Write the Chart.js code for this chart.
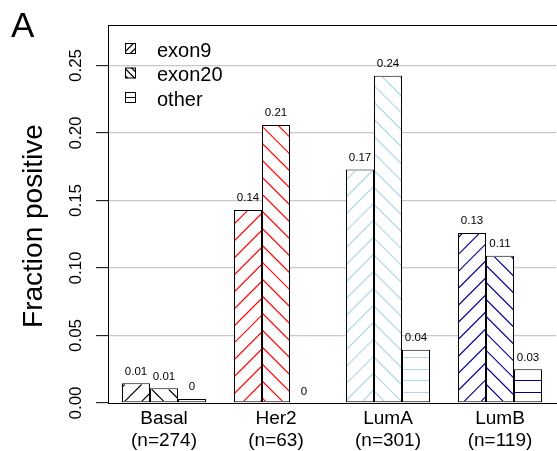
<!DOCTYPE html>
<html>
<head>
<meta charset="utf-8">
<script src="https://cdn.jsdelivr.net/npm/chart.js@4.4.1/dist/chart.umd.min.js"></script>
<style>
  html, body { margin: 0; padding: 0; background: #fff; }
  #wrap { width: 557px; height: 451px; }
</style>
</head>
<body>
<div id="wrap"><canvas id="fracChart" width="557" height="451"></canvas></div>
<script>
// values
const subtypes = ['Basal', 'Her2', 'LumA', 'LumB'];
const sampleSizes = ['(n=274)', '(n=63)', '(n=301)', '(n=119)'];
const seriesNames = ['exon9', 'exon20', 'other'];
const exon9 = [0.0146, 0.143, 0.173, 0.126];
const exon20 = [0.0109, 0.206, 0.2425, 0.109];
const other = [0.003, 0, 0.0395, 0.025];
const yTicks = [0, 0.05, 0.10, 0.15, 0.20, 0.25];
const yTickLabels = ['0.00', '0.05', '0.10', '0.15', '0.20', '0.25'];

const subtypeColors = ['#000000', '#FF0000', '#ADD8E6', '#00008B'];
const hatchKinds = ['/', '\\', '-'];
const FONT = '"Liberation Sans", Arial, Helvetica, sans-serif';

// draw hatch lines inside a rect (clipped); lines anchored to `anchor`
function hatch(ctx, x0, y0, x1, y1, kind, color, gap, anchor) {
    if (x1 - x0 < 1 || y1 - y0 < 1) return;
    anchor = anchor || 0;
    ctx.save();
    ctx.beginPath();
    ctx.rect(x0, y0, x1 - x0, y1 - y0);
    ctx.clip();
    ctx.strokeStyle = color;
    ctx.beginPath();
    if (kind === '-') {
        // 1px lines look fine when horizontal and pixel aligned
        ctx.lineWidth = 1;
        const start = anchor + Math.floor((y0 - anchor) / gap) * gap;
        for (let y = start; y < y1; y += gap) {
            if (y < y0) continue;
            ctx.moveTo(x0, Math.round(y) + 0.5);
            ctx.lineTo(x1, Math.round(y) + 0.5);
        }
    } else {
        // thin diagonal strokes render badly at exactly 1px here
        ctx.lineWidth = 1.2;
        const d = gap * Math.SQRT2;
        if (kind === '/') {
            for (let k = Math.floor((x0 + y0 - anchor) / d); anchor + k * d <= x1 + y1; k++) {
                const c = anchor + k * d;
                ctx.moveTo(c - y0, y0);
                ctx.lineTo(c - y1, y1);
            }
        } else {
            for (let k = Math.floor((x0 - y1 - anchor) / d); anchor + k * d <= x1 - y0; k++) {
                const c = anchor + k * d;
                ctx.moveTo(c + y0, y0);
                ctx.lineTo(c + y1, y1);
            }
        }
    }
    ctx.stroke();
    ctx.restore();
}

const datasets = [exon9, exon20, other].map((vals, i) => ({
    label: seriesNames[i],
    data: vals,
    backgroundColor: '#fff',
    borderColor: '#000',
    borderWidth: 1,
    borderSkipped: false,
    categoryPercentage: 0.75,
    barPercentage: 1.0
}));

const decorations = {
    id: 'decorations',
    beforeDraw(chart) {
        const ctx = chart.ctx;
        ctx.save();
        ctx.fillStyle = '#fff';
        ctx.fillRect(0, 0, chart.width, chart.height);
        ctx.restore();
    },
    afterDatasetsDraw(chart) {
        const ctx = chart.ctx;
        // hatching inside each bar
        chart.data.datasets.forEach((ds, i) => {
            chart.getDatasetMeta(i).data.forEach((bar, j) => {
                const p = bar.getProps(['x', 'y', 'base', 'width'], true);
                const left = p.x - p.width / 2;
                const right = p.x + p.width / 2;
                hatch(ctx, left + 1, p.y + 1, right - 1, p.base - 1,
                    hatchKinds[i], subtypeColors[j], i === 2 ? 11.7 : 12, i === 2 ? 6 : 0);
            });
        });
        // value labels
        ctx.save();
        ctx.fillStyle = '#000';
        ctx.font = '11.5px ' + FONT;
        ctx.textAlign = 'center';
        ctx.textBaseline = 'alphabetic';
        chart.data.datasets.forEach((ds, i) => {
            chart.getDatasetMeta(i).data.forEach((bar, j) => {
                const txt = String(Number(ds.data[j].toFixed(2)));
                ctx.fillText(txt, bar.x, bar.y - 8.5);
            });
        });
        ctx.restore();
    },
    afterDraw(chart) {
        const ctx = chart.ctx;
        const area = chart.chartArea;
        const yScale = chart.scales.y;
        ctx.save();

        // top edge of the box
        ctx.strokeStyle = '#000';
        ctx.lineWidth = 1;
        ctx.beginPath();
        ctx.moveTo(area.left, area.top + 0.5);
        ctx.lineTo(chart.width, area.top + 0.5);
        ctx.stroke();

        ctx.fillStyle = '#000';
        ctx.textAlign = 'center';
        ctx.textBaseline = 'alphabetic';

        // rotated y tick labels
        ctx.font = '17px ' + FONT;
        yTicks.forEach((v, i) => {
            ctx.save();
            ctx.translate(81, yScale.getPixelForValue(v));
            ctx.rotate(-Math.PI / 2);
            ctx.fillText(yTickLabels[i], 0, 0);
            ctx.restore();
        });

        // y title
        ctx.save();
        ctx.font = '28px ' + FONT;
        ctx.translate(42, 226);
        ctx.rotate(-Math.PI / 2);
        ctx.fillText('Fraction positive', 0, 0);
        ctx.restore();

        // panel letter
        ctx.textAlign = 'left';
        ctx.font = '35px ' + FONT;
        ctx.fillText('A', 11, 37);

        // legend
        ctx.font = '20px ' + FONT;
        seriesNames.forEach((name, i) => {
            const top = 43 + i * 24.5;
            ctx.fillStyle = '#fff';
            ctx.fillRect(125, top, 11, 11);
            hatch(ctx, 125, top, 136, top + 11, hatchKinds[i], '#000',
                i === 2 ? 20 : 5, i === 2 ? top + 5 : 0);
            ctx.strokeStyle = '#000';
            ctx.lineWidth = 1;
            ctx.strokeRect(125.5, top + 0.5, 10, 10);
            ctx.fillStyle = '#000';
            ctx.fillText(name, 157, top + 13.5);
        });

        ctx.restore();
    }
};

new Chart(document.getElementById('fracChart'), {
    type: 'bar',
    data: {
        labels: subtypes.map((s, i) => [s, sampleSizes[i]]),
        datasets: datasets
    },
    options: {
        responsive: false,
        animation: false,
        devicePixelRatio: 1,
        layout: { padding: { top: 25, right: 1, left: 0, bottom: 0 } },
        plugins: {
            legend: { display: false },
            tooltip: { enabled: false }
        },
        scales: {
            x: {
                grid: { display: false, drawTicks: false },
                border: { display: true, color: '#000', width: 1 },
                ticks: {
                    color: '#000',
                    font: { family: FONT, size: 19, lineHeight: 1.2 },
                    padding: 4,
                    maxRotation: 0,
                    autoSkip: false
                },
                afterFit: s => { s.height = 48; }
            },
            y: {
                min: 0,
                max: 0.28,
                afterBuildTicks: s => { s.ticks = yTicks.map(v => ({ value: v })); },
                grid: {
                    color: c => (c.tick && c.tick.value === 0) ? 'rgba(0,0,0,0)' : '#c8c8c8',
                    lineWidth: 1.3,
                    drawTicks: true,
                    tickLength: 12,
                    tickColor: '#000',
                    tickWidth: 1
                },
                border: { display: true, color: '#000', width: 1 },
                ticks: { display: false },
                afterFit: s => { s.width = 108; }
            }
        }
    },
    plugins: [decorations]
});
</script>
</body>
</html>
